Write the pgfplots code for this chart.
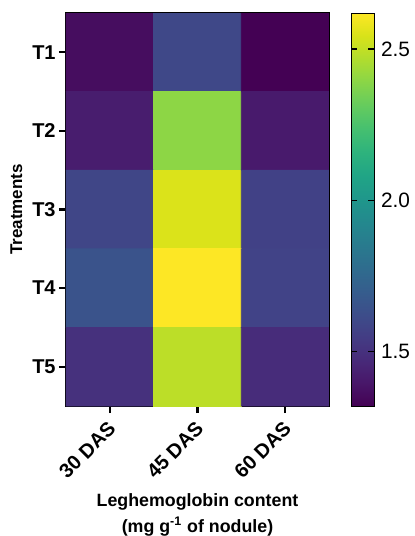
\documentclass[border=0pt]{standalone}
\usepackage{pgfplots}
\pgfplotsset{compat=1.18}
\usepackage{fontspec}
\setmainfont{Liberation Sans}
\begin{document}
\begin{tikzpicture}
\path[use as bounding box] (-33pt,-65pt) rectangle (174pt,203pt);
\begin{axis}[
  scale only axis,
  width=131.5pt, height=196.5pt,
  at={(0,0)}, anchor=south west,
  xmin=-0.5, xmax=2.5, ymin=0.5, ymax=5.5,
  y dir=reverse,
  enlargelimits=false,
  axis line style={line width=1.3pt},
  xtick={0,1,2}, xticklabels={30 DAS,45 DAS,60 DAS},
  ytick={1,2,3,4,5}, yticklabels={T1,T2,T3,T4,T5},
  tick align=outside, tick pos=left,
  major tick length=3.5pt,
  tick style={line width=1.1pt, black},
  xticklabel style={rotate=45, anchor=north east, font=\bfseries\fontsize{10}{12}\selectfont, inner sep=1pt, xshift=-2.4pt, yshift=-0.4pt},
  yticklabel style={font=\bfseries\fontsize{10}{12}\selectfont, inner sep=1.5pt},
  xlabel={Leghemoglobin content\\[1.5pt](mg g\textsuperscript{-1} of nodule)},
  xlabel style={font=\bfseries\fontsize{8.9}{11.5}\selectfont, align=center, yshift=-2pt},
  ylabel={Treatments},
  ylabel style={font=\bfseries\fontsize{8.5}{10}\selectfont, yshift=0pt},
  colormap/viridis,
  point meta min=1.32, point meta max=2.62,
  colorbar,
  colorbar style={
    scale only axis,
    width=11.5pt, height=196.5pt,
    at={(parent axis.north east)}, anchor=north west, xshift=2.5pt,
    axis line style={line width=0.5pt},
    ytick={1.5,2.0,2.5},
    major tick length=3pt,
    tick align=inside,
    ytick pos=both,
    tick style={line width=0.9pt, black},
    yticklabel pos=right,
    yticklabel style={font=\fontsize{10.4}{12}\selectfont, /pgf/number format/.cd, fixed, fixed zerofill, precision=1, assume math mode=true},
  },
]
\addplot[matrix plot*, mesh/cols=3, mesh/rows=5, point meta=explicit] table[meta=c] {
x y c
0 1 1.36
1 1 1.60
2 1 1.32
0 2 1.42
1 2 2.40
2 2 1.41
0 3 1.59
1 3 2.55
2 3 1.57
0 4 1.65
1 4 2.62
2 4 1.58
0 5 1.50
1 5 2.49
2 5 1.48
};
\end{axis}
\end{tikzpicture}
\end{document}
